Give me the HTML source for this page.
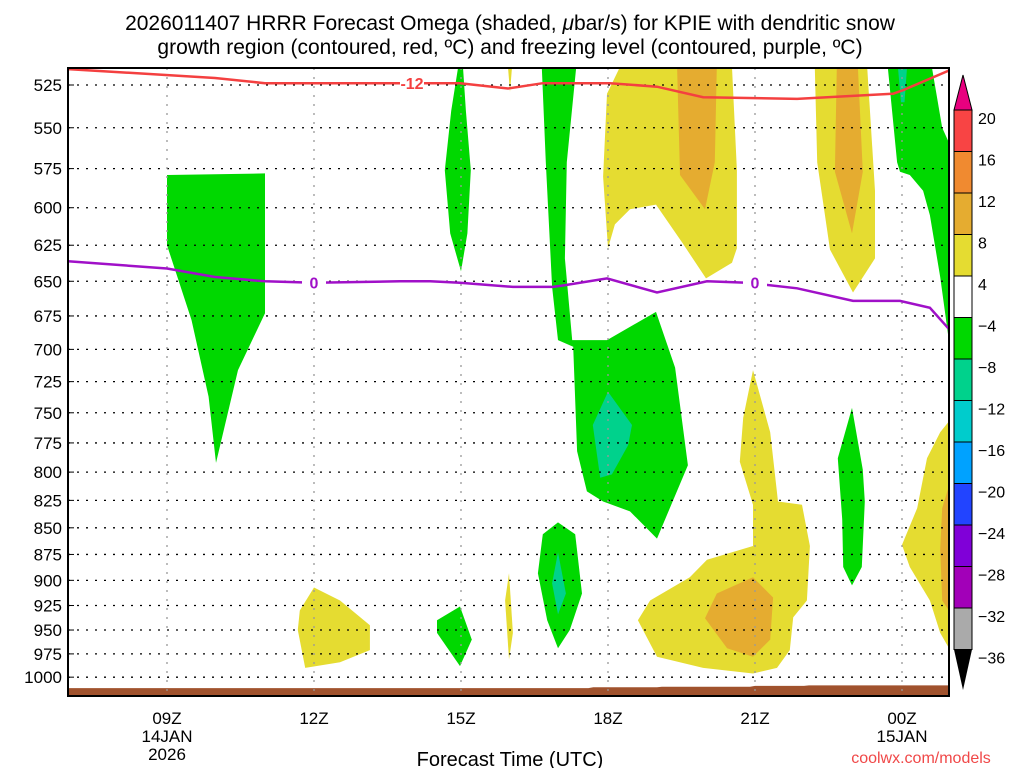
<!DOCTYPE html>
<html><head><meta charset="utf-8"><style>
body{margin:0;background:#fff;width:1024px;height:768px;overflow:hidden;font-family:"Liberation Sans",sans-serif}
svg text{font-family:"Liberation Sans",sans-serif}
</style></head><body>
<svg id="chart" width="1024" height="768" xmlns="http://www.w3.org/2000/svg">
<text x="510" y="30" font-size="21" text-anchor="middle">2026011407 HRRR Forecast Omega (shaded, <tspan font-style="italic">μ</tspan>bar/s) for KPIE with dendritic snow</text>
<text x="510" y="54" font-size="21" text-anchor="middle">growth region (contoured, red, ºC) and freezing level (contoured, purple, ºC)</text>
<defs><clipPath id="clip"><rect x="68" y="68" width="881" height="628"/></clipPath></defs>
<g id="shade" clip-path="url(#clip)"></g>
<g id="grid"></g>
<g id="lines" clip-path="url(#clip)"></g>
<rect x="68" y="68" width="881" height="628" fill="none" stroke="#000" stroke-width="2"/>
<g id="yaxis"></g><g id="xaxis"></g><g id="cbar"></g>
<text x="510" y="766" font-size="20" text-anchor="middle">Forecast Time (UTC)</text>
<text x="921" y="763" font-size="16" fill="#f04848" text-anchor="middle">coolwx.com/models</text>
</svg>
<script>
const pressureLevels=[525,550,575,600,625,650,675,700,725,750,775,800,825,850,875,900,925,950,975,1000];
const timeTicks=[9,12,15,18,21,24];
const timeLabels=[["09Z","14JAN","2026"],["12Z"],["15Z"],["18Z"],["21Z"],["00Z","15JAN"]];
const cbarLevels=[20,16,12,8,4,-4,-8,-12,-16,-20,-24,-28,-32,-36];
const cbarColors=["#f84444","#f08a30","#e5ac30","#e5dc31","#ffffff","#00d800","#00d28c","#00cccc","#00a2ff","#2244ff","#8000d8","#a200b8","#aaaaaa"];
const fillYellow=[
[[18.24,515],[20.53,515],[20.63,576],[20.63,627],[20.53,637],[20.0,648],[19.53,624],[18.98,598],[18.45,601],[18.14,611],[18.0,627],[17.9,580],[17.98,530]],
[[22.22,515],[23.29,515],[23.45,589],[23.45,634],[23.0,658],[22.53,628],[22.27,571]],
[[15.96,515],[16.04,515],[16.0,529]],
[[15.98,893],[16.06,953],[15.98,981],[15.9,920]],
[[20.96,716],[21.31,766],[21.47,826],[21.96,829],[22.12,867],[22.06,920],[21.78,937],[21.71,971],[21.45,990],[20.96,996],[19.94,990],[19.0,978],[18.61,940],[18.86,920],[19.67,897],[20.02,880],[20.96,867],[20.96,829],[20.69,791],[20.76,754]],
[[24.96,757],[24.78,766],[24.51,788],[24.31,832],[24.0,866],[24.16,887],[24.57,920],[24.78,953],[24.96,969]],
[[12.0,907],[12.53,920],[13.14,945],[13.14,971],[12.53,984],[11.82,990],[11.67,950],[11.71,930]]
];
const fillOrange=[
[[19.41,515],[20.22,515],[20.18,571],[19.98,601],[19.47,579]],
[[22.67,515],[23.1,515],[23.2,577],[22.98,617],[22.63,577]],
[[20.96,897],[21.37,917],[21.31,960],[20.96,978],[20.43,969],[19.98,938],[20.22,913]],
[[24.96,812],[24.82,832],[24.78,870],[24.82,920],[24.96,930]]
];
const fillGreen=[
[[9.0,579],[11.0,578],[11.0,673],[10.45,716],[10.0,792],[9.85,737],[9.5,678],[9.0,625]],
[[14.94,515],[15.04,515],[15.1,540],[15.2,576],[15.13,617],[15.0,643],[14.78,617],[14.67,576],[14.8,540]],
[[16.65,515],[17.35,515],[17.16,571],[17.12,634],[17.27,693],[17.98,693],[18.98,672],[19.37,714],[19.63,794],[19.0,860],[18.45,835],[17.9,826],[17.57,817],[17.37,782],[17.29,698],[16.98,693],[16.86,654],[16.73,571]],
[[23.71,515],[24.61,515],[24.82,550],[24.96,559],[24.96,694],[24.78,647],[24.57,605],[24.43,589],[24.16,579],[23.96,577],[23.9,571]],
[[14.51,940],[14.98,926],[15.22,960],[14.98,988],[14.51,953]],
[[16.98,845],[17.33,856],[17.47,913],[17.22,950],[16.98,969],[16.76,940],[16.57,893],[16.67,856]],
[[22.98,746],[23.2,798],[23.24,826],[23.18,887],[22.98,905],[22.8,887],[22.78,842],[22.69,788]]
];
const fillTeal=[
[[18.0,733],[18.49,760],[18.41,777],[18.08,802],[17.84,805],[17.69,760]],
[[16.98,873],[17.14,913],[16.98,934],[16.86,903]],
[[23.92,516],[24.1,516],[24.05,535],[23.98,535]]
];
const dgzHours=[6.98,9.98,11.0,13.76,14.98,15.96,16.67,17.29,18.04,19.0,19.94,21.86,23.82,24.02,24.94,25.2];
const dgzPres=[516,521,524,524,524,527,524,524,524,526,532,533,530,528,517,513];
const frzHours=[6.98,9,9.98,11,12,13.76,14.37,14.98,16.06,16.88,17.08,17.98,19.0,20.02,20.84,21.86,23.0,23.96,24.57,24.94,25.2];
const frzPres=[636,641,647,650,651,650,650,651,654,654,653,648,658,650,651,655,664,664,669,684,695];
const sfcHours=[6.9,17.6,17.7,19.0,19.1,20.9,21.0,22.0,22.1,25.2];
const sfcPres=[1012,1012,1011,1011,1010.5,1010.5,1009.5,1009.5,1009,1009];

const NS="http://www.w3.org/2000/svg";
const X=h=>167+(h-9)*49;
const Y=p=>85+919*Math.log(p/525);
function mk(tag,attrs,parent){const e=document.createElementNS(NS,tag);for(const k in attrs)e.setAttribute(k,attrs[k]);document.getElementById(parent).appendChild(e);return e;}
function polys(list,color,name){list.forEach(pl=>{const e=mk('polygon',{points:pl.map(q=>X(q[0]).toFixed(1)+','+Y(q[1]).toFixed(1)).join(' '),fill:color},'shade');

});}
polys(fillYellow,'#e5dc31','omega-4-8');
polys(fillOrange,'#e5ac30','omega-8-12');
polys(fillGreen,'#00d800','omega-neg4-neg8');
polys(fillTeal,'#00d28c','omega-neg8-neg12');
let gp='68,696 '+sfcHours.map((h,i)=>X(h).toFixed(1)+','+Y(sfcPres[i]).toFixed(1)).join(' ')+' 949,696';
const g=mk('polygon',{points:gp,fill:'#a0522d'},'shade');


pressureLevels.forEach(p=>{const l=mk('line',{x1:68,x2:949,y1:Y(p),y2:Y(p),stroke:'#000','stroke-width':1.3,'stroke-dasharray':'2 7'},'grid');


const t=mk('text',{x:62,y:Y(p)+6,'font-size':17,'text-anchor':'end'},'yaxis');t.textContent=p;


mk('line',{x1:68,x2:74,y1:Y(p),y2:Y(p),stroke:'#000'},'yaxis');});
timeTicks.forEach((h,i)=>{const l=mk('line',{x1:X(h),x2:X(h),y1:68,y2:696,stroke:'#999','stroke-width':1.3,'stroke-dasharray':'2 7'},'grid');


timeLabels[i].forEach((s,j)=>{const t=mk('text',{x:X(h),y:724+j*18,'font-size':17,'text-anchor':'middle'},'xaxis');t.textContent=s;

});});
function line(hs,ps,color,name){const e=mk('polyline',{points:hs.map((h,i)=>X(h).toFixed(1)+','+Y(ps[i]).toFixed(1)).join(' '),fill:'none',stroke:color,'stroke-width':2.5},'lines');

}
line(dgzHours,dgzPres,'#f44040','dgz-contour-minus12');
line(frzHours,frzPres,'#a010c8','freezing-level-contour');
function lbl(h,p,s,color,name){mk('rect',{x:X(h)-12,y:Y(p)-8,width:24,height:16,fill:'#fff'},'lines');
const t=mk('text',{x:X(h),y:Y(p)+6,'font-size':16,'font-weight':'bold',fill:color,'text-anchor':'middle'},'lines');t.textContent=s;

}
lbl(14.0,524,'-12','#f44040','dgz-label');
lbl(12.0,651,'0','#a010c8','freezing-label-1');
lbl(21.0,651,'0','#a010c8','freezing-label-2');
const cx=954,cw=18,ct=110,bh=41.5;
cbarColors.forEach((c,i)=>{const r=mk('rect',{x:cx,y:ct+i*bh,width:cw,height:bh,fill:c,stroke:'#000','stroke-width':1},'cbar');

});
cbarLevels.forEach((v,i)=>{const t=mk('text',{x:978,y:ct+i*bh+14,'font-size':16},'cbar');t.textContent=(v<0?'−':'')+Math.abs(v);

});
const tt=mk('polygon',{points:`${cx},${ct} ${cx+cw},${ct} ${cx+cw/2},75`,fill:'#e8007f',stroke:'#000'},'cbar');


const bb=ct+13*bh;
const tb=mk('polygon',{points:`${cx},${bb} ${cx+cw},${bb} ${cx+cw/2},690`,fill:'#000'},'cbar');


</script>
</body></html>
